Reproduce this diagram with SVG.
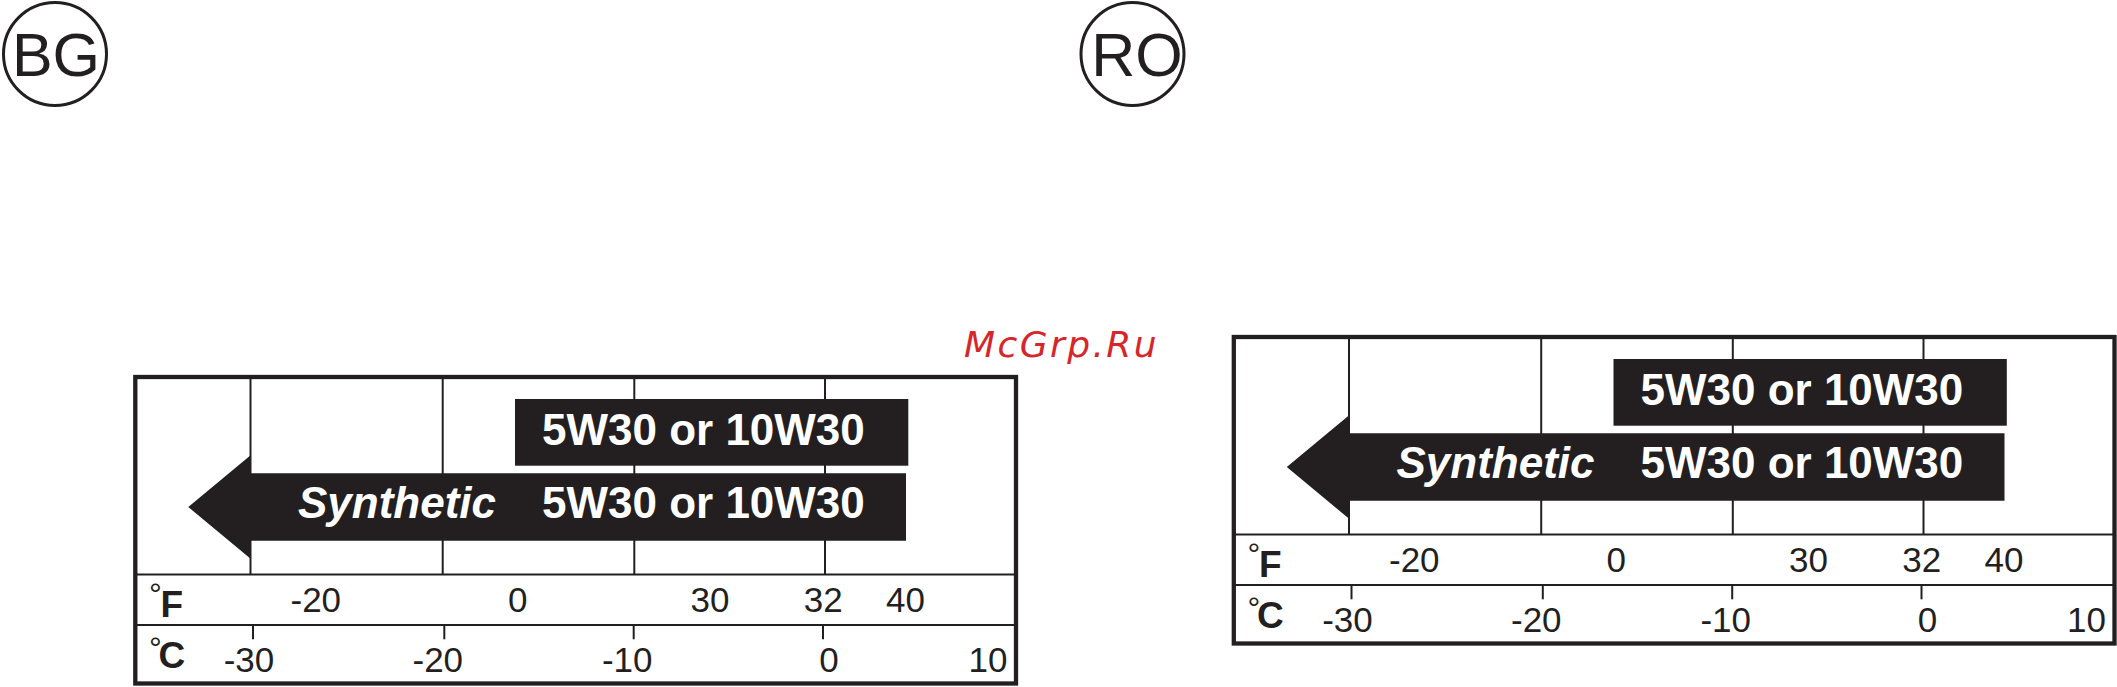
<svg xmlns="http://www.w3.org/2000/svg" width="2117" height="687" viewBox="0 0 2117 687">
<style>
.frame{fill:none;stroke:#231f20;stroke-width:4.3}
.grid{stroke:#231f20;stroke-width:2;fill:none}
.blk{fill:#231f20}
.lbl{font-family:"Liberation Sans",Arial,sans-serif;font-weight:bold;font-size:44px;fill:#ffffff}
.syn{font-style:italic}
.num{font-family:"Liberation Sans",Arial,sans-serif;font-size:35px;fill:#231f20;text-anchor:middle}
.unit{font-family:"Liberation Sans",Arial,sans-serif;font-weight:bold;font-size:37px;fill:#231f20}
.deg{font-family:"Liberation Sans",Arial,sans-serif;font-size:32px;fill:#231f20}
.badge{fill:none;stroke:#231f20;stroke-width:3}
.badgetxt{font-family:"Liberation Sans",Arial,sans-serif;font-size:61px;fill:#231f20;text-anchor:middle}
.wm{font-family:"DejaVu Sans",sans-serif;font-style:italic;font-size:36px;letter-spacing:2.4px;fill:#d6262b}
</style>
<rect width="2117" height="687" fill="#ffffff"/>

<g id="badge-bg">
  <circle class="badge" cx="55" cy="54" r="51.5"/>
  <text class="badgetxt" x="56" y="76">BG</text>
</g>
<g id="badge-ro">
  <circle class="badge" cx="1132.5" cy="54" r="51.5"/>
  <text class="badgetxt" x="1137" y="76">RO</text>
</g>

<g id="watermark">
  <text class="wm" x="964" y="357">McGrp.Ru</text>
</g>

<g id="chart-bg">
  <rect class="frame" x="135.3" y="377" width="880.7" height="306.5"/>
  <g id="connectors-bg">
    <line class="grid" x1="250.5" y1="377" x2="250.5" y2="574.5"/>
    <line class="grid" x1="442.7" y1="377" x2="442.7" y2="574.5"/>
    <line class="grid" x1="634.3" y1="377" x2="634.3" y2="574.5"/>
    <line class="grid" x1="825" y1="377" x2="825" y2="574.5"/>
    <line class="grid" x1="135.3" y1="574.5" x2="1016" y2="574.5"/>
    <line class="grid" x1="135.3" y1="625" x2="1016" y2="625"/>
    <line class="grid" x1="253" y1="625" x2="253" y2="639.3"/>
    <line class="grid" x1="444.3" y1="625" x2="444.3" y2="639.3"/>
    <line class="grid" x1="633.7" y1="625" x2="633.7" y2="639.3"/>
    <line class="grid" x1="823" y1="625" x2="823" y2="639.3"/>
  </g>
  <g id="box-top-bg">
    <rect class="blk" x="515" y="399" width="393.3" height="66.7"/>
    <text class="lbl" x="542" y="445">5W30 or 10W30</text>
  </g>
  <g id="arrow-bg">
    <polygon class="blk" points="250,455.7 188.3,507 250,558.3 250,540.7 906,540.7 906,473.3 250,473.3"/>
    <text class="lbl syn" x="298" y="518.3">Synthetic</text>
    <text class="lbl" x="542" y="518.3">5W30 or 10W30</text>
  </g>
  <g id="f-row-bg">
    <text class="deg" x="149" y="604.5">°</text>
    <text class="unit" x="160.5" y="617">F</text>
    <text class="num" x="315.8" y="611.7">-20</text>
    <text class="num" x="517.8" y="611.7">0</text>
    <text class="num" x="710" y="611.7">30</text>
    <text class="num" x="823.3" y="611.7">32</text>
    <text class="num" x="905.5" y="611.7">40</text>
  </g>
  <g id="c-row-bg">
    <text class="deg" x="149" y="659.4">°</text>
    <text class="unit" x="158.5" y="667.5">C</text>
    <text class="num" x="249" y="671.7">-30</text>
    <text class="num" x="437.8" y="671.7">-20</text>
    <text class="num" x="627.2" y="671.7">-10</text>
    <text class="num" x="829" y="671.7">0</text>
    <text class="num" x="988" y="671.7">10</text>
  </g>
</g>

<g id="chart-ro" transform="translate(1098.5,-40)">
  <rect class="frame" x="135.3" y="377" width="880.7" height="306.5"/>
  <g id="connectors-ro">
    <line class="grid" x1="250.5" y1="377" x2="250.5" y2="574.5"/>
    <line class="grid" x1="442.7" y1="377" x2="442.7" y2="574.5"/>
    <line class="grid" x1="634.3" y1="377" x2="634.3" y2="574.5"/>
    <line class="grid" x1="825" y1="377" x2="825" y2="574.5"/>
    <line class="grid" x1="135.3" y1="574.5" x2="1016" y2="574.5"/>
    <line class="grid" x1="135.3" y1="625" x2="1016" y2="625"/>
    <line class="grid" x1="253" y1="625" x2="253" y2="639.3"/>
    <line class="grid" x1="444.3" y1="625" x2="444.3" y2="639.3"/>
    <line class="grid" x1="633.7" y1="625" x2="633.7" y2="639.3"/>
    <line class="grid" x1="823" y1="625" x2="823" y2="639.3"/>
  </g>
  <g id="box-top-ro">
    <rect class="blk" x="515" y="399" width="393.3" height="66.7"/>
    <text class="lbl" x="542" y="445">5W30 or 10W30</text>
  </g>
  <g id="arrow-ro">
    <polygon class="blk" points="250,455.7 188.3,507 250,558.3 250,540.7 906,540.7 906,473.3 250,473.3"/>
    <text class="lbl syn" x="298" y="518.3">Synthetic</text>
    <text class="lbl" x="542" y="518.3">5W30 or 10W30</text>
  </g>
  <g id="f-row-ro">
    <text class="deg" x="149" y="604.5">°</text>
    <text class="unit" x="160.5" y="617">F</text>
    <text class="num" x="315.8" y="611.7">-20</text>
    <text class="num" x="517.8" y="611.7">0</text>
    <text class="num" x="710" y="611.7">30</text>
    <text class="num" x="823.3" y="611.7">32</text>
    <text class="num" x="905.5" y="611.7">40</text>
  </g>
  <g id="c-row-ro">
    <text class="deg" x="149" y="659.4">°</text>
    <text class="unit" x="158.5" y="667.5">C</text>
    <text class="num" x="249" y="671.7">-30</text>
    <text class="num" x="437.8" y="671.7">-20</text>
    <text class="num" x="627.2" y="671.7">-10</text>
    <text class="num" x="829" y="671.7">0</text>
    <text class="num" x="988" y="671.7">10</text>
  </g>
</g>
</svg>
